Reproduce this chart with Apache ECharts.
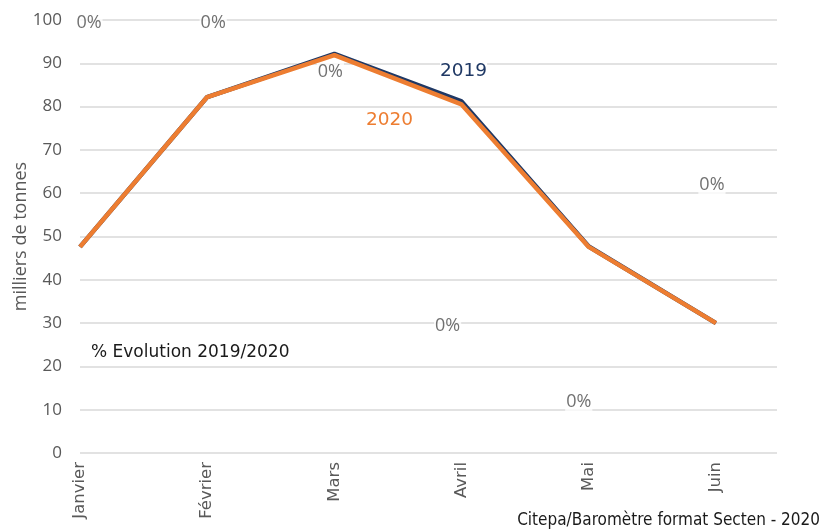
<!DOCTYPE html>
<html><head><meta charset="utf-8">
<script src="https://cdn.jsdelivr.net/npm/echarts@6/dist/echarts.min.js"></script>
<style>html,body{margin:0;padding:0;background:#fff}#c{width:829px;height:529px}</style>
</head><body><div id="c"></div>
<script>
const categories = ['Janvier','Février','Mars','Avril','Mai','Juin'];
const values2019 = [47.6, 82.2, 92.2, 81.2, 47.7, 30.0];
const values2020 = [47.6, 82.2, 91.9, 80.5, 47.6, 30.0];
const pctLabels = ['0%','0%','0%','0%','0%','0%'];
const pctLabelY = [99.3, 99.3, 88.0, 29.3, 11.8, 61.9];
const yTicks = [0,10,20,30,40,50,60,70,80,90,100];

const pctDx = [9, 6, -4, -14, -10, -4];
const chart = echarts.init(document.getElementById('c'));
const idx = categories.map((c,i)=>i);
chart.setOption({
  animation:false,
  grid:{left:80,right:52,top:20,bottom:76,containLabel:false,outerBoundsMode:'none'},
  xAxis:{type:'value',min:0,max:5.48,interval:1,
    axisLine:{show:false},axisTick:{show:false},splitLine:{show:false},
    axisLabel:{rotate:90,margin:9,fontFamily:'DejaVu Sans',fontSize:16.5,color:'#595959',
      formatter:v=> (Number.isInteger(v) && categories[v]!==undefined) ? categories[v] : ''}},
  yAxis:{type:'value',min:yTicks[0],max:yTicks[yTicks.length-1],interval:10,
    name:'milliers de tonnes',nameLocation:'middle',nameGap:50,nameMoveOverlap:false,
    nameTextStyle:{fontFamily:'Open Sans',fontSize:18,color:'#595959'},
    axisLine:{show:false},axisTick:{show:false},
    axisLabel:{fontFamily:'Open Sans',fontSize:17,color:'#595959',margin:18},
    splitLine:{lineStyle:{color:'#d9d9d9',width:1.5}}},
  series:[
    {type:'line',name:'2019',data:idx.map(i=>[i,values2019[i]]),symbol:'none',z:1,
      lineStyle:{color:'#1F3864',width:4.5}},
    {type:'line',name:'2020',data:idx.map(i=>[i,values2020[i]]),symbol:'none',z:2,
      lineStyle:{color:'#ED7D31',width:4.5}},
    {type:'scatter',data:idx.map(i=>({value:[i,pctLabelY[i]],label:{offset:[pctDx[i],0]}})),symbolSize:0,z:5,
      label:{show:true,position:'inside',formatter:p=>pctLabels[p.dataIndex],
        fontFamily:'Open Sans',fontSize:18,color:'#4d4d4d',backgroundColor:'#fff',padding:[0,1]}}
  ],
  graphic:[
    {type:'text',left:440,top:62,z:10,style:{text:'2019',fontFamily:'DejaVu Sans',fontSize:18.5,fill:'#1F3864',backgroundColor:'#fff'}},
    {type:'text',left:366,top:111,z:10,style:{text:'2020',fontFamily:'DejaVu Sans',fontSize:18.5,fill:'#ED7D31',backgroundColor:'#fff'}},
    {type:'text',left:91,top:344,z:10,style:{text:'% Evolution 2019/2020',fontFamily:'DejaVu Sans',fontSize:17,fill:'#1a1a1a'}},
    {type:'text',right:9,top:512,z:10,style:{text:'Citepa/Baromètre format Secten - 2020',fontFamily:'DejaVu Sans Condensed',fontSize:17,fill:'#1a1a1a'}}
  ]
});
</script></body></html>
